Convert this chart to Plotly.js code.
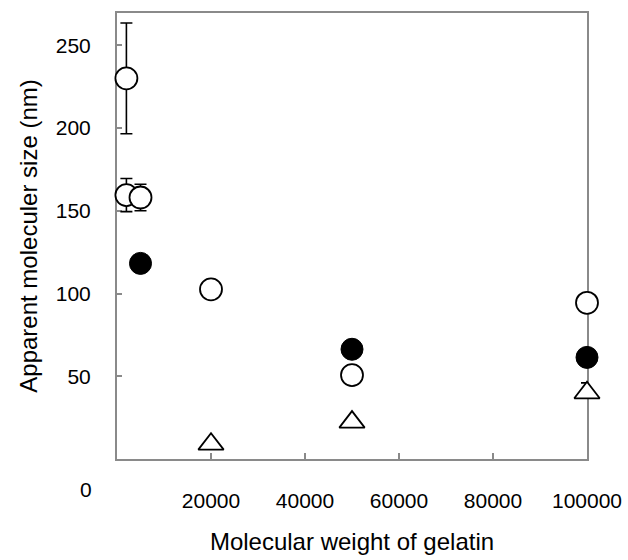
<!DOCTYPE html>
<html>
<head>
<meta charset="utf-8">
<script src="https://cdn.plot.ly/plotly-3.0.1.min.js"></script>
<style>html,body{margin:0;padding:0;background:#fff;}#chart{width:628px;height:560px;}</style>
</head>
<body>
<div id="chart"></div>
<script>
// Open circles
const openX = [2000, 2000, 5000, 20000, 50000, 100000];
const openY = [230, 159.5, 158, 102.5, 50.7, 94.4];
const openErr = [33.5, 10, 8, null, null, null];
// Filled circles
const filledX = [5000, 50000, 100000];
const filledY = [118.2, 66.3, 61.4];
// Open triangles
const triX = [20000, 50000, 100000];
const triY = [9, 22.3, 40];
const triErrPlus = [null, null, 6];
const triErrMinus = [null, null, 3];
// Tick labels
const xTicks = [20000, 40000, 60000, 80000, 100000];
const xTickText = ['20000', '40000', '60000', '80000', '100000'];
const yTicks = [50, 100, 150, 200, 250];
const yTickText = ['50', '100', '150', '200', '250'];
const yZeroLabel = '0';
const xTitle = 'Molecular weight of gelatin';
const yTitle = 'Apparent moleculer size (nm)';

const FONT = 'Liberation Sans, Arial, sans-serif';
const GRAY = '#8a8a8a';

const traces = [
  {x: openX, y: openY, type: 'scatter', mode: 'markers', cliponaxis: false,
   marker: {symbol: 'circle', size: 22, color: '#fff', line: {color: '#000', width: 1.8}},
   error_y: {type: 'data', array: openErr, visible: true, color: '#000', thickness: 1.6, width: 6},
   showlegend: false},
  {x: filledX, y: filledY, type: 'scatter', mode: 'markers', cliponaxis: false,
   marker: {symbol: 'circle', size: 22, color: '#000', line: {color: '#000', width: 1}},
   showlegend: false},
  {x: triX, y: triY, type: 'scatter', mode: 'markers', cliponaxis: false,
   marker: {symbol: 'triangle-up', size: 22, color: '#fff', line: {color: '#000', width: 1.8}},
   error_y: {type: 'data', symmetric: false, array: triErrPlus, arrayminus: triErrMinus,
             visible: true, color: '#000', thickness: 1.6, width: 6},
   showlegend: false}
];

const layout = {
  width: 628, height: 560,
  margin: {l: 117, r: 41, t: 13, b: 101, pad: 0},
  paper_bgcolor: '#fff', plot_bgcolor: '#fff',
  font: {family: FONT, size: 21, color: '#000'},
  xaxis: {
    range: [0, 100000], autorange: false,
    tickvals: xTicks, ticktext: xTickText,
    ticks: 'inside', ticklen: 6, tickwidth: 2, tickcolor: GRAY,
    showline: true, linecolor: GRAY, linewidth: 2, mirror: true,
    showgrid: false, zeroline: false, layer: 'below traces',
    ticklabelstandoff: 22, automargin: false,
    tickfont: {family: FONT, size: 21, color: '#000'},
    title: {text: xTitle, font: {family: FONT, size: 24, color: '#000'}, standoff: 22}
  },
  yaxis: {
    range: [0, 269.5], autorange: false,
    tickvals: yTicks, ticktext: yTickText,
    ticks: 'inside', ticklen: 5, tickwidth: 2, tickcolor: GRAY,
    showline: true, linecolor: GRAY, linewidth: 2, mirror: true,
    showgrid: false, zeroline: false, layer: 'below traces',
    ticklabelstandoff: 20, automargin: false,
    tickfont: {family: FONT, size: 21, color: '#000'},
    title: {text: yTitle, font: {family: FONT, size: 24, color: '#000'}, standoff: 11}
  },
  annotations: [
    {text: yZeroLabel, xref: 'paper', yref: 'paper', x: -0.049, y: -0.068,
     xanchor: 'right', yanchor: 'middle', showarrow: false,
     font: {family: FONT, size: 21, color: '#000'}}
  ]
};

Plotly.newPlot('chart', traces, layout, {displayModeBar: false, staticPlot: true});
</script>
</body>
</html>
